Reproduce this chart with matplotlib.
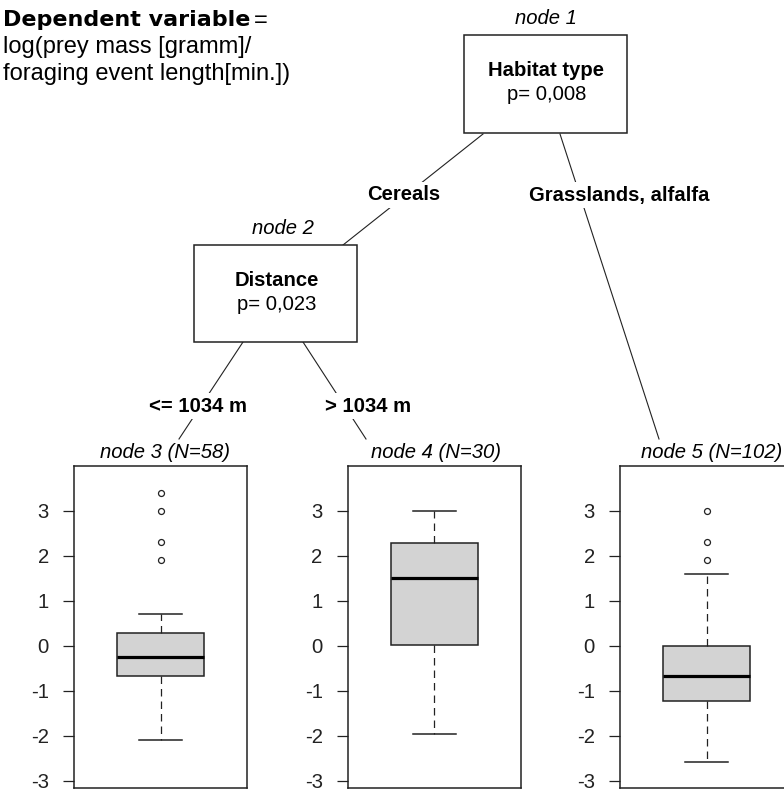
import matplotlib
matplotlib.use("Agg")
import matplotlib.pyplot as plt
from matplotlib.patches import Rectangle

plt.rcParams['font.family'] = ['Liberation Sans', 'DejaVu Sans']

# ---- tree content ----
inner_titles = ["node 1", "node 2"]
inner_vars = ["Habitat type", "Distance"]
inner_pvals = ["p= 0,008", "p= 0,023"]
edge_labels = ["Cereals", "Grasslands, alfalfa", "<= 1034 m", "> 1034 m"]

# ---- terminal node summaries (log prey mass / event length) ----
leaf_titles = ["node 3 (N=58)", "node 4 (N=30)", "node 5 (N=102)"]
leaf_whislo = [-2.09, -1.95, -2.58]
leaf_q1 = [-0.67, 0.03, -1.23]
leaf_med = [-0.24, 1.51, -0.67]
leaf_q3 = [0.29, 2.29, 0.00]
leaf_whishi = [0.70, 3.00, 1.61]
leaf_fliers = [[1.91, 2.31, 3.00, 3.40], [], [1.91, 2.31, 3.00]]
y_ticks = [-3, -2, -1, 0, 1, 2, 3]

W, H = 784, 791
fig = plt.figure(figsize=(W / 100, H / 100), dpi=100)

# canvas in pixel units for the tree layout
tree = fig.add_axes([0, 0, 1, 1])
tree.set_xlim(0, W)
tree.set_ylim(H, 0)
tree.axis("off")

FS = 14.6
LINE = dict(color="#222222", lw=0.8, zorder=1)
LABEL_BOX = dict(facecolor="white", edgecolor="none", pad=2.5)

# header text
tree.text(3, 20, "Dependent variable", fontsize=16, fontweight="bold",
          family="DejaVu Sans", va="center", ha="left")
tree.text(254, 21, "=", fontsize=17, va="center", ha="left")
tree.text(3, 47, "log(prey mass [gramm]/", fontsize=17, va="center", ha="left")
tree.text(3, 74, "foraging event length[min.])", fontsize=17, va="center", ha="left")

# inner nodes: (left, top, width, height), title x
inner_boxes = [(464, 35, 162.7, 98.3), (194, 245, 162.7, 97)]
title_x = [546, 283]
for (x0, y0, w, h), t, v, p, tx in zip(inner_boxes, inner_titles, inner_vars,
                                       inner_pvals, title_x):
    tree.add_patch(Rectangle((x0, y0), w, h, facecolor="white",
                             edgecolor="#222222", lw=1.1, zorder=2))
    cx = x0 + w / 2
    tree.text(tx, y0 - 16, t, fontsize=FS, style="italic", ha="center", va="center")
    tree.text(cx + 1, y0 + 35, v, fontsize=FS, fontweight="bold", ha="center", va="center")
    tree.text(cx + 1, y0 + 60, p, fontsize=FS, ha="center", va="center")

# edges with their split labels
edges = [((483, 134), (343, 245), (404, 195)),
         ((560, 134), (659, 439), (619, 195)),
         ((243, 342), (179, 439), (198, 406)),
         ((303, 342), (366, 439), (368, 406))]
for ((xa, ya), (xb, yb), (lx, ly)), lab in zip(edges, edge_labels):
    tree.plot([xa, xb], [ya, yb], **LINE)
    tree.text(lx, ly, lab, fontsize=FS, fontweight="bold", ha="center",
              va="center", bbox=LABEL_BOX, zorder=3)

# terminal panels with boxplots
panel_left = [74, 347.7, 620]
panel_w = 173.3
panel_top, panel_bot = 466, 788
title_cx = [165, 436, 712]

for i in range(3):
    ax = fig.add_axes([panel_left[i] / W, 1 - panel_bot / H,
                       panel_w / W, (panel_bot - panel_top) / H])
    stats = [dict(med=leaf_med[i], q1=leaf_q1[i], q3=leaf_q3[i],
                  whislo=leaf_whislo[i], whishi=leaf_whishi[i],
                  fliers=leaf_fliers[i])]
    ax.bxp(stats, positions=[0.5], widths=0.5, capwidths=0.25,
           patch_artist=True, manage_ticks=False,
           boxprops=dict(facecolor="#d3d3d3", edgecolor="#222222", lw=1.1),
           medianprops=dict(color="black", lw=2.3),
           whiskerprops=dict(color="#222222", lw=0.9, linestyle=(0, (6, 4))),
           capprops=dict(color="#222222", lw=1.1),
           flierprops=dict(marker="o", markersize=4.3, markerfacecolor="white",
                           markeredgecolor="#222222", markeredgewidth=0.9))
    ax.set_xlim(0, 1)
    ax.set_ylim(-3.156, 4.0)
    ax.set_yticks(y_ticks)
    ax.set_yticklabels([str(v) for v in y_ticks])
    ax.set_xticks([])
    ax.tick_params(axis="y", length=8, width=0.9, pad=10, labelsize=FS,
                   colors="#222222")
    for s in ax.spines.values():
        s.set_linewidth(1.1)
        s.set_color("#222222")
    tree.text(title_cx[i], 453, leaf_titles[i], fontsize=FS, style="italic",
              ha="center", va="center")

fig.savefig("out.png", dpi=100)
